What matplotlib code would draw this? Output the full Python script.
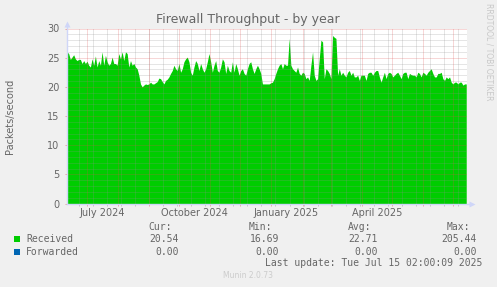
import matplotlib
matplotlib.use('Agg')
import matplotlib.pyplot as plt
import numpy as np
import pandas as pd
from matplotlib.transforms import blended_transform_factory

# ---------------- data ----------------
series_start = '2024-06-11 00:00'
sample_step = '40h'
received = [
    26.0, 25.7, 24.7, 25.1, 25.5, 24.8, 24.5, 24.7, 24.7, 24.0, 24.5, 24.0, 24.4, 23.7, 23.4, 24.8,
    23.7, 25.3, 23.4, 24.5, 23.7, 26.0, 23.7, 25.4, 24.3, 23.7, 24.0, 25.1, 24.0, 24.0, 23.7, 25.7,
    24.8, 26.0, 24.5, 26.0, 25.7, 23.4, 24.5, 23.7, 24.0, 23.4, 23.1, 22.0, 20.5, 20.0, 20.3, 20.5,
    20.4, 20.5, 20.8, 20.5, 20.5, 20.7, 20.9, 21.5, 21.4, 20.9, 20.5, 21.1, 21.3,
    21.7, 22.3, 22.8, 23.7, 23.1, 22.8, 24.0, 22.5, 23.1, 24.3, 24.8, 25.1, 24.3, 22.5, 22.0, 23.4,
    24.5, 24.0, 22.8, 24.0, 23.1, 22.5, 23.1, 24.3, 25.7, 24.3, 22.5, 23.7, 24.5, 22.8, 22.5, 23.4,
    24.8, 24.3, 22.3, 23.7, 22.8, 22.5, 24.3, 22.5, 24.0, 23.1, 22.0, 22.8, 23.1, 22.3, 22.0, 23.1,
    24.0, 24.3, 23.1, 22.3, 23.1, 23.7, 23.1, 22.3, 20.5,
    20.5, 20.5, 20.5, 20.5, 20.7, 20.8, 21.4, 22.3, 23.1, 23.7, 24.0, 23.1, 24.0, 23.7, 23.7, 28.3,
    23.7, 23.1, 22.8, 22.5, 23.4, 22.3, 22.0, 22.5, 22.3, 21.4, 21.7, 21.1, 23.7, 26.0, 22.0, 21.1,
    21.4, 24.8, 28.0, 27.7, 21.4, 23.1, 22.8, 22.3, 21.4, 28.8, 28.5, 28.3, 22.0, 23.1, 22.0, 22.5,
    22.0, 21.7, 22.5, 22.8, 22.0, 22.5, 21.7, 21.7, 22.0, 21.1, 22.0, 22.0,
    22.0, 21.1, 22.3, 22.5, 22.5, 22.0, 22.5, 22.8, 22.8, 21.7, 20.8, 21.7, 22.5, 21.4, 22.3, 22.5,
    22.3, 21.7, 22.0, 22.3, 22.5, 22.0, 21.4, 22.3, 22.5, 22.5, 21.4, 22.3, 22.1, 22.0, 22.0, 21.7,
    22.5, 22.3, 21.7, 22.5, 22.3, 22.0, 22.5, 22.8, 23.1, 22.3, 21.7, 21.7, 22.3, 22.3, 22.5, 21.4,
    21.1, 21.7, 21.4, 21.7, 20.8, 20.5, 20.8, 20.8, 20.5, 20.8, 20.8, 20.3, 20.5, 20.5,
]
forwarded = [0.0] * len(received)

x_start = '2024-06-11 00:00'
x_end = '2025-07-15 02:00'
month_labels = ['July 2024', 'October 2024', 'January 2025', 'April 2025']
month_label_dates = ['2024-07-16', '2024-10-16', '2025-01-16', '2025-04-16']

legend_names = ['Received', 'Forwarded']
legend_colors = ['#00CC00', '#0066B3']
stat_headers = ['Cur:', 'Min:', 'Avg:', 'Max:']
stat_cur = ['20.54', '0.00']
stat_min = ['16.69', '0.00']
stat_avg = ['22.71', '0.00']
stat_max = ['205.44', '0.00']
last_update = 'Last update: Tue Jul 15 02:00:09 2025'

# ---------------- figure ----------------
W, H = 497, 287
FONT = '#666666'
AXIS = '#CFD6F8'
GRID = (0.56, 0.56, 0.56, 0.45)
MGRID = (0.87, 0.31, 0.31, 0.45)
DOT = (0, (1, 1))
PX = 0.72  # one pixel in points at dpi=100

fig = plt.figure(figsize=(W / 100, H / 100), dpi=100, facecolor='#F0F0F0')
L, R, T, B = 67, 467, 28.5, 203.5
ax = fig.add_axes([L / W, 1 - B / H, (R - L) / W, (B - T) / H])
ax.set_facecolor('#FFFFFF')
for s in ax.spines.values():
    s.set_visible(False)

dates = pd.date_range(series_start, periods=len(received), freq=sample_step)
ax.fill_between(dates, 0, received, color=legend_colors[0], lw=0, zorder=1)
ax.plot(dates, forwarded, color=legend_colors[1], lw=0, zorder=1)

ax.set_xlim(pd.Timestamp(x_start), pd.Timestamp(x_end))
ax.set_ylim(0, 30)

# grid (drawn over the area, like rrdtool)
minor_v = pd.date_range('2024-06-23', x_end, freq='14D')
major_v = pd.date_range('2024-07-01', x_end, freq='MS')
for d in minor_v:
    ax.axvline(d, color=GRID, lw=PX, ls=DOT, zorder=3)
for d in major_v:
    ax.axvline(d, color=MGRID, lw=PX, ls=DOT, zorder=4)
for v in range(1, 31):
    if v % 5:
        ax.axhline(v, color=GRID, lw=PX, ls=DOT, zorder=3)
    else:
        ax.axhline(v, color=MGRID, lw=PX, ls=DOT, zorder=4)

# axes lines and arrows
ax.plot([0, 0], [0, 1 + 5 / 175], transform=ax.transAxes, color=AXIS, lw=1, clip_on=False, zorder=5)
ax.plot([0, 1 + 5 / 400], [0, 0], transform=ax.transAxes, color=AXIS, lw=1, clip_on=False, zorder=5)
ax.plot([0], [1 + 5 / 175], marker='^', ms=4.5, color=AXIS, mec='none', transform=ax.transAxes, clip_on=False, zorder=5)
ax.plot([1 + 5 / 400], [0], marker='>', ms=4.5, color=AXIS, mec='none', transform=ax.transAxes, clip_on=False, zorder=5)

# ticks
ax.set_yticks(range(0, 31, 5))
ax.tick_params(axis='y', length=1.5, width=PX, color=MGRID, labelsize=7, labelcolor=FONT, pad=4)
ax.set_xticks(major_v)
ax.set_xticklabels([])
ax.set_xticks(minor_v, minor=True)
ax.tick_params(axis='x', which='major', length=1.5, width=PX, color=MGRID)
ax.tick_params(axis='x', which='minor', length=1.5, width=PX, color=GRID)

trans = blended_transform_factory(ax.transData, fig.transFigure)
for lab, d in zip(month_labels, month_label_dates):
    ax.text(pd.Timestamp(d), 1 - 212.5 / H, lab, transform=trans, ha='center', va='center',
            fontsize=7, color=FONT)

def ftxt(x, y, s, **kw):
    fig.text(x / W, 1 - y / H, s, **kw)

ftxt(248, 19, 'Firewall Throughput - by year', ha='center', va='center', fontsize=9, color=FONT)
ftxt(10, 116, 'Packets/second', rotation=90, ha='center', va='center', fontsize=7, color=FONT)
ftxt(488.5, 52, 'RRDTOOL / TOBI OETIKER', rotation=270, ha='center', va='center', fontsize=5.5, color='#C8C8C8')
ftxt(248, 276, 'Munin 2.0.73', ha='center', va='center', fontsize=5.5, color='#CCCCCC')

MONO = 'DejaVu Sans Mono'
hdr_right = [172, 272, 371, 470]
val_right = [179, 279, 378, 477]
for h, xr in zip(stat_headers, hdr_right):
    ftxt(xr, 226.7, h, ha='right', va='center', fontsize=7, family=MONO, color=FONT)
rows_y = [239.3, 251.7]
stats = [stat_cur, stat_min, stat_avg, stat_max]
for i, (name, col) in enumerate(zip(legend_names, legend_colors)):
    y = rows_y[i]
    fig.patches.append(plt.Rectangle((14 / W, 1 - (y + 3) / H), 6 / W, 6 / H, transform=fig.transFigure,
                                     facecolor=col, edgecolor='none'))
    ftxt(26, y, name, ha='left', va='center', fontsize=7, family=MONO, color=FONT)
    for st, xr in zip(stats, val_right):
        ftxt(xr, y, st[i], ha='right', va='center', fontsize=7, family=MONO, color=FONT)
ftxt(482, 263.3, last_update, ha='right', va='center', fontsize=7, family=MONO, color=FONT)

fig.savefig('out.png', dpi=100, facecolor=fig.get_facecolor())
